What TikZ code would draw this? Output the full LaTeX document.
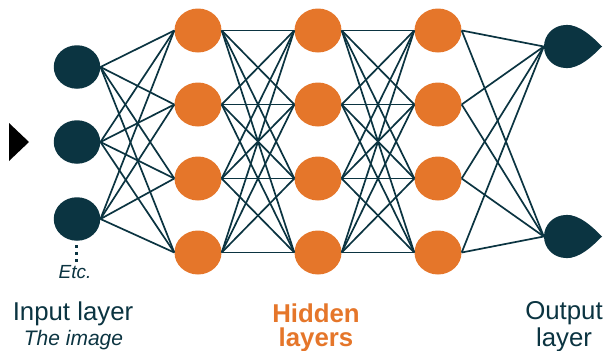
\documentclass[tikz,border=0pt]{standalone}
\usepackage{fontspec}
\setmainfont{Liberation Sans}
\usetikzlibrary{shapes.geometric,calc}
\definecolor{netdark}{HTML}{0B3441}
\definecolor{netorange}{HTML}{E5762A}
\begin{document}
\begin{tikzpicture}[x=1pt,y=-1pt,
  inode/.style={ellipse, fill=netdark, minimum width=46.5pt, minimum height=43.5pt, inner sep=0pt},
  hnode/.style={ellipse, fill=netorange, minimum width=47pt, minimum height=44pt, inner sep=0pt},
  onode/.style={ellipse, fill=netdark, minimum width=44pt, minimum height=43pt, inner sep=0pt},
  link/.style={draw=netdark, line width=1.7pt},
  caption/.style={text=netdark, font=\fontsize{25.8}{28}\selectfont, align=center, inner sep=0pt},
  subcap/.style={text=netdark, font=\fontsize{21}{24}\selectfont\itshape, inner sep=0pt},
  hcap/.style={text=netorange, font=\fontsize{25.8}{28}\selectfont\bfseries, inner sep=0pt}]
\useasboundingbox (0,0) rectangle (603,351);

% input layer
\foreach \i/\y in {1/67,2/142,3/219}
  \node[inode] (in\i) at (77,\y) {};
\fill (9,123) coordinate (arrA) -- (29,142) coordinate (arrB) -- (9,161) coordinate (arrC) -- cycle;
\foreach \y in {246.5,253.5,260.5}
  \fill[netdark] (74.8,\y-1.6) rectangle (77.8,\y+1.6);
\node[subcap, font=\fontsize{19}{22}\selectfont\itshape] (etc) at (75,272.5) {Etc.};

% hidden layers
\foreach \c/\x in {1/198,2/318,3/438}
  \foreach \r/\y in {1/30.5,2/104.5,3/178.5,4/252.5}
    \node[hnode] (h\c\r) at (\x,\y) {};

% output layer (drop shaped)
\foreach \j/\y in {1/46.5,2/236.5} {
  \node[onode] (o\j) at (566,\y) {};
  \fill[netdark] (o\j.north) .. controls +(14,0) and (592,\y-10) .. (602,\y)
    .. controls (592,\y+10) and ($(o\j.south)+(14,0)$) .. (o\j.south) -- cycle;
}

% connections
\foreach \i in {1,2,3}
  \foreach \r in {1,...,4}
    \draw[link] (in\i.east) -- (h1\r.west);
\foreach \a/\b in {1/2,2/3}
  \foreach \r in {1,...,4}
    \foreach \s in {1,...,4}
      \draw[link] (h\a\r.east) -- (h\b\s.west);
\foreach \r in {1,...,4}
  \foreach \j in {1,2}
    \draw[link] (h3\r.east) -- (o\j.west);

% captions
\node[caption] (inlab) at (73,314) {Input layer};
\node[subcap] (inimg) at (73.5,340) {The image};
\node[hcap] (hid1) at (316,313) {Hidden};
\node[hcap] (hid2) at (316,340) {layers};
\node[caption] (outl1) at (564,313) {Output};
\node[caption] (outl2) at (564,340) {layer};
\end{tikzpicture}
\end{document}
